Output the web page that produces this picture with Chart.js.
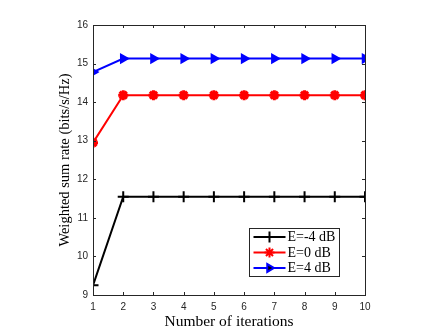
<!DOCTYPE html>
<html><head><meta charset="utf-8">
<script src="https://cdn.jsdelivr.net/npm/chart.js@4/dist/chart.umd.min.js"></script>
<style>html,body{margin:0;padding:0;background:#fff}#w{width:443px;height:332px}</style>
</head><body><div id="w"><canvas id="c"></canvas></div>
<script>
const iterations = [1,2,3,4,5,6,7,8,9,10];
const rateEm4 = [9.25,11.55,11.55,11.55,11.55,11.55,11.55,11.55,11.55,11.55];
const rateE0 = [12.95,14.18,14.18,14.18,14.18,14.18,14.18,14.18,14.18,14.18];
const rateE4 = [14.78,15.13,15.13,15.13,15.13,15.13,15.13,15.13,15.13,15.13];
const yTicks = [9,10,11,12,13,14,15,16];
const labels = ['E=-4 dB','E=0 dB','E=4 dB'];
const yTitle = 'Weighted sum rate (bits/s/Hz)';

function pts(v){return iterations.map((x,i)=>({x:x,y:v[i]}));}
const axisColor = '#262626';

const boxPlugin = {
  id:'box',
  afterDatasetsDraw(chart){
    const ctx = chart.ctx, a = chart.chartArea, xs = chart.scales.x, ys = chart.scales.y;
    ctx.save();
    ctx.strokeStyle = axisColor; ctx.lineWidth = 1;
    ctx.strokeRect(a.left+0.5, a.top+0.5, a.right-a.left, a.bottom-a.top);
    const L = 3;
    ctx.beginPath();
    iterations.forEach(v=>{
      const px = Math.round(xs.getPixelForValue(v))+0.5;
      ctx.moveTo(px,a.bottom); ctx.lineTo(px,a.bottom-L);
      ctx.moveTo(px,a.top); ctx.lineTo(px,a.top+L);
    });
    yTicks.forEach(v=>{
      const py = Math.round(ys.getPixelForValue(v))+0.5;
      ctx.moveTo(a.left,py); ctx.lineTo(a.left+L,py);
      ctx.moveTo(a.right,py); ctx.lineTo(a.right-L,py);
    });
    ctx.stroke();
    // y title
    ctx.save();
    ctx.translate(65,(a.top+a.bottom)/2);
    ctx.rotate(-Math.PI/2);
    ctx.fillStyle='#000';
    ctx.font='14.5px "Liberation Serif", serif';
    ctx.textAlign='center'; ctx.textBaseline='middle';
    ctx.fillText(yTitle,0,0);
    ctx.restore();
    // legend
    const bx = 249.5, by = 228.5, bw = 90, bh = 48;
    ctx.fillStyle = '#fff'; ctx.fillRect(bx,by,bw,bh);
    ctx.strokeStyle = axisColor; ctx.strokeRect(bx,by,bw,bh);
    chart.data.datasets.forEach((ds,i)=>{
      const yy = by + 8.5 + i*15.5;
      ctx.strokeStyle = ds.borderColor; ctx.lineWidth = 2;
      ctx.beginPath(); ctx.moveTo(bx+4,yy); ctx.lineTo(bx+36,yy); ctx.stroke();
      Chart.helpers.drawPoint(ctx,{pointStyle:ds.pointStyle,radius:ds.pointRadius,rotation:ds.pointRotation||0,borderWidth:ds.pointBorderWidth||2},bx+20,yy);
      ctx.fillStyle = '#000';
      ctx.font = '14px "Liberation Serif", serif';
      ctx.textBaseline = 'middle'; ctx.textAlign='left';
      ctx.fillText(ds.label, bx+38, yy+0.5);
    });
    ctx.restore();
  }
};

function ds(label,data,color,style,extra){
  return Object.assign({label:label,data:pts(data),borderColor:color,backgroundColor:color,
    borderWidth:2,pointStyle:style,pointRadius:5,pointBorderWidth:2,pointBorderColor:color,
    pointBackgroundColor:color,tension:0},extra||{});
}

new Chart(document.getElementById('c'),{
  type:'line',
  data:{datasets:[
    ds(labels[0],rateEm4,'#000000','cross',{pointRadius:5.5}),
    ds(labels[1],rateE0,'#ff0000','star',{pointBorderWidth:3}),
    ds(labels[2],rateE4,'#0000ff','triangle',{pointRotation:90,pointRadius:4.5})
  ]},
  options:{
    responsive:true,maintainAspectRatio:false,animation:false,
    layout:{padding:{left:0,right:78,top:25,bottom:0}},
    plugins:{legend:{display:false},tooltip:{enabled:false}},
    scales:{
      x:{type:'linear',min:1,max:10,
        afterFit(s){s.height=37;},
        afterBuildTicks(s){s.ticks=iterations.map(v=>({value:v}));},
        grid:{display:false,drawTicks:false},border:{display:false},
        ticks:{padding:6,color:axisColor,font:{family:'"Liberation Sans", Arial, sans-serif',size:10},maxRotation:0},
        title:{display:true,text:'Number of iterations',color:'#000',padding:{top:0,bottom:1},
          font:{family:'"Liberation Serif", serif',size:15.5}}
      },
      y:{type:'linear',min:9,max:16,
        afterFit(s){s.width=93;},
        afterBuildTicks(s){s.ticks=yTicks.map(v=>({value:v}));},
        grid:{display:false,drawTicks:false},border:{display:false},
        ticks:{padding:5,color:axisColor,font:{family:'"Liberation Sans", Arial, sans-serif',size:10}}
      }
    }
  },
  plugins:[boxPlugin]
});
</script></body></html>
